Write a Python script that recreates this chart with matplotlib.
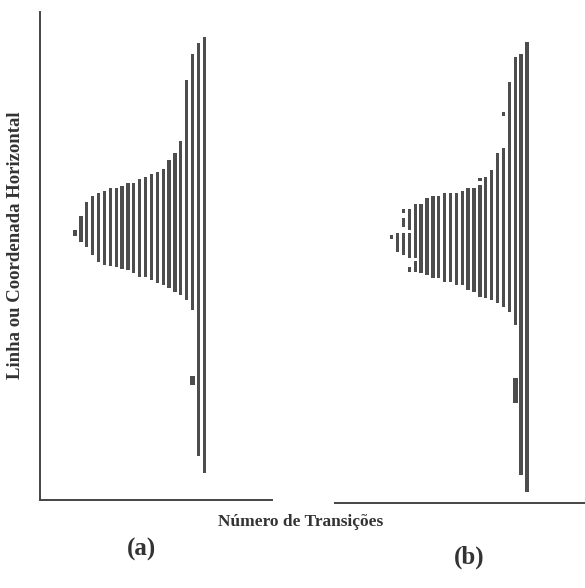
import matplotlib.pyplot as plt

# panel (a): one vertical stroke per column, top / bottom in row units
a_cols = list(range(23))
a_top = [270, 284, 298, 304, 307, 309, 312, 312, 314, 317, 317, 321, 323,
         326, 328, 331, 340, 347, 359, 420, 446, 457, 463]
a_bot = [264, 258, 253, 245, 238, 235, 234, 233, 231, 230, 227, 223, 223,
         220, 217, 215, 212, 208, 205, 200, 190, 44, 27]
# loose pieces in (a): column, top, bottom
a_extra_col = [20]
a_extra_top = [124]
a_extra_bot = [115]

# panel (b)
b_cols = list(range(24))
b_top = [268, 270, 270, 270, 299, 299, 305, 307, 307, 310, 310, 310, 312,
         315, 315, 318, 326, 333, 350, 355, 421, 446, 449, 461]
b_bot = [264, 251, 248, 245, 245, 230, 228, 225, 225, 221, 221, 218, 218,
         213, 211, 206, 205, 203, 200, 196, 191, 178, 28, 11]
b_extra_col = [2, 2, 3, 3, 4, 15, 19]
b_extra_top = [294, 285, 294, 236, 242, 325, 391]
b_extra_bot = [290, 276, 273, 231, 231, 322, 387]
b_block_col = [21]
b_block_top = [125]
b_block_bot = [100]

bar_color = '#4d4d4d'
W, H = 585, 588

fig = plt.figure(figsize=(W / 100, H / 100), dpi=100)

ax_a = fig.add_axes([40 / W, (H - 500) / H, (272 - 40) / W, (500 - 12) / H])
ax_a.bar(a_cols, [t - b for t, b in zip(a_top, a_bot)], bottom=a_bot,
         width=0.56, color=bar_color)
ax_a.bar(a_extra_col, [t - b for t, b in zip(a_extra_top, a_extra_bot)],
         bottom=a_extra_bot, width=0.9, color=bar_color)
ax_a.set_xlim(-5.95, 33.5)
ax_a.set_ylim(0, 488)

ax_b = fig.add_axes([335 / W, (H - 503) / H, (585 - 335) / W, (503 - 12) / H])
ax_b.bar(b_cols, [t - b for t, b in zip(b_top, b_bot)], bottom=b_bot,
         width=0.56, color=bar_color)
ax_b.bar(b_extra_col, [t - b for t, b in zip(b_extra_top, b_extra_bot)],
         bottom=b_extra_bot, width=0.56, color=bar_color)
ax_b.bar(b_block_col, [t - b for t, b in zip(b_block_top, b_block_bot)],
         bottom=b_block_bot, width=0.8, color=bar_color)
ax_b.set_xlim(-9.64, 32.87)
ax_b.set_ylim(0, 491)

for ax in (ax_a, ax_b):
    ax.set_xticks([])
    ax.set_yticks([])
    ax.spines['top'].set_visible(False)
    ax.spines['right'].set_visible(False)
    ax.spines['bottom'].set_linewidth(1.4)
    ax.spines['bottom'].set_color('#444444')
    ax.spines['left'].set_linewidth(1.4)
    ax.spines['left'].set_color('#444444')
    ax.patch.set_visible(False)
ax_b.spines['left'].set_visible(False)

font = dict(family='Liberation Serif', weight='bold', color='#333333')
fig.text(16 / W, 1 - 245 / H, 'Linha ou Coordenada Horizontal', rotation=90,
         ha='center', va='center', fontsize=13.5, **font)
fig.text(301 / W, 1 - 522 / H, 'Número de Transições', ha='center',
         va='center', fontsize=12.5, **font)
fig.text(141 / W, 1 - 549 / H, '(a)', ha='center', va='center',
         fontsize=18, **font)
fig.text(469 / W, 1 - 557 / H, '(b)', ha='center', va='center',
         fontsize=18, **font)

fig.savefig('out.png', dpi=100)
